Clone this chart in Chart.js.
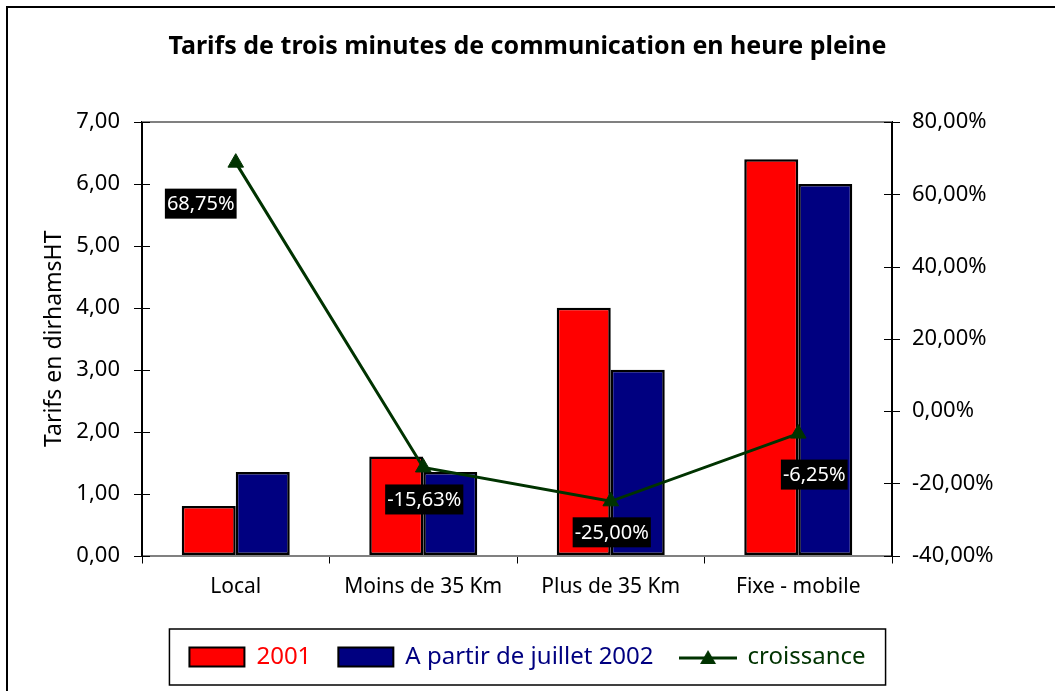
<!DOCTYPE html>
<html>
<head>
<meta charset="utf-8">
<script src="https://cdn.jsdelivr.net/npm/chart.js@4.4.0/dist/chart.umd.min.js"></script>
<style>
  html, body { margin: 0; padding: 0; background: #fff; }
  #wrap { width: 1055px; height: 691px; position: relative; }
</style>
</head>
<body>
<div id="wrap"><canvas id="tarifsChart"></canvas></div>
<script>
// Chart data
const categories = ['Local', 'Moins de 35 Km', 'Plus de 35 Km', 'Fixe - mobile'];
const tarifs2001 = [0.80, 1.60, 4.00, 6.40];
const tarifs2002 = [1.35, 1.35, 3.00, 6.00];
const croissance = [68.75, -15.63, -25.00, -6.25];
const leftTicks = [0, 1, 2, 3, 4, 5, 6, 7];
const rightTicks = [-40, -20, 0, 20, 40, 60, 80];

const FONT = '"Noto Sans", "DejaVu Sans", sans-serif';
const GREEN = '#003300';

function fr(v, d) {
  return v.toFixed(d).replace('.', ',');
}

// legend icon for the line series: a short line with a triangle
const lineIcon = document.createElement('canvas');
lineIcon.width = 58;
lineIcon.height = 20;
(function() {
  const c = lineIcon.getContext('2d');
  c.strokeStyle = GREEN;
  c.lineWidth = 3;
  c.beginPath();
  c.moveTo(0, 11);
  c.lineTo(58, 11);
  c.stroke();
  c.fillStyle = GREEN;
  c.beginPath();
  c.moveTo(29, 3);
  c.lineTo(37, 17);
  c.lineTo(21, 17);
  c.closePath();
  c.fill();
})();

// frame, top border, crossing ticks on the value axes, legend box
const decorPlugin = {
  id: 'decor',
  afterDraw(chart) {
    const ctx = chart.ctx;
    const area = chart.chartArea;
    ctx.save();
    // outer frame (only top and left are inside the picture)
    ctx.strokeStyle = '#000';
    ctx.lineWidth = 2;
    ctx.beginPath();
    ctx.moveTo(7, chart.height + 5);
    ctx.lineTo(7, 7);
    ctx.lineTo(chart.width + 5, 7);
    ctx.stroke();

    // top border of the plot area
    ctx.strokeStyle = '#808080';
    ctx.lineWidth = 2;
    ctx.beginPath();
    ctx.moveTo(area.left, area.top);
    ctx.lineTo(area.right, area.top);
    ctx.stroke();

    // ticks crossing the two value axes
    ctx.strokeStyle = '#000';
    ctx.lineWidth = 1;
    ['y', 'y1'].forEach(id => {
      const s = chart.scales[id];
      const x = id === 'y' ? area.left : area.right;
      s.ticks.forEach((t, i) => {
        const py = Math.round(s.getPixelForTick(i)) + 0.5;
        ctx.beginPath();
        ctx.moveTo(x - 8, py);
        ctx.lineTo(x + 8, py);
        ctx.stroke();
      });
    });

    // legend frame
    const boxes = chart.legend.legendHitBoxes;
    if (boxes && boxes.length) {
      const l = boxes[0].left - 20;
      const last = boxes[boxes.length - 1];
      const r = last.left + last.width + 20;
      const t = boxes[0].top - 16;
      const b = boxes[0].top + boxes[0].height + 16;
      ctx.strokeStyle = '#000';
      ctx.lineWidth = 1.5;
      ctx.strokeRect(l, t, r - l, b - t);
    }
    ctx.restore();
  }
};

// black boxes with the growth values
const labelOffsets = [[-35, 41], [1, 32], [1, 31], [16, 41]];
const growthLabels = {
  id: 'growthLabels',
  afterDatasetsDraw(chart) {
    const ctx = chart.ctx;
    const meta = chart.getDatasetMeta(2);
    ctx.save();
    ctx.font = '20px ' + FONT;
    ctx.textAlign = 'center';
    ctx.textBaseline = 'middle';
    meta.data.forEach((pt, i) => {
      const txt = fr(croissance[i], 2) + '%';
      const w = ctx.measureText(txt).width + 4;
      const h = 30;
      const cx = pt.x + labelOffsets[i][0];
      const cy = pt.y + labelOffsets[i][1];
      ctx.fillStyle = '#000';
      ctx.fillRect(cx - w / 2, cy - h / 2, w, h);
      ctx.fillStyle = '#fff';
      ctx.fillText(txt, cx, cy + 1);
    });
    ctx.restore();
  }
};

const ctx = document.getElementById('tarifsChart');
new Chart(ctx, {
  data: {
    labels: categories,
    datasets: [{
      type: 'bar',
      label: '2001',
      data: tarifs2001,
      backgroundColor: '#ff0000',
      borderColor: '#000',
      borderWidth: 2.5,
      borderSkipped: false,
      categoryPercentage: 0.576,
      barPercentage: 1.0,
      yAxisID: 'y',
      order: 2
    }, {
      type: 'bar',
      label: 'A partir de juillet 2002',
      data: tarifs2002,
      backgroundColor: '#000080',
      borderColor: '#000',
      borderWidth: 2.5,
      borderSkipped: false,
      categoryPercentage: 0.576,
      barPercentage: 1.0,
      yAxisID: 'y',
      order: 2
    }, {
      type: 'line',
      label: 'croissance',
      data: croissance,
      borderColor: GREEN,
      backgroundColor: GREEN,
      borderWidth: 3,
      pointStyle: 'triangle',
      pointRadius: 9,
      pointBorderWidth: 1,
      tension: 0,
      yAxisID: 'y1',
      order: 0
    }]
  },
  options: {
    responsive: true,
    maintainAspectRatio: false,
    animation: false,
    layout: {
      padding: { left: 0, right: 0, top: 0, bottom: 12 }
    },
    scales: {
      x: {
        offset: true,
        grid: {
          offset: true,
          drawOnChartArea: false,
          tickLength: 8,
          color: '#000'
        },
        border: { color: '#808080', width: 2 },
        ticks: {
          color: '#000',
          font: { family: FONT, size: 21 },
          padding: 11
        },
        afterFit: function(scale) { scale.height = 62.5; }
      },
      y: {
        position: 'left',
        min: 0,
        max: 7,
        afterBuildTicks: function(scale) {
          scale.ticks = leftTicks.map(v => ({ value: v }));
        },
        grid: { drawOnChartArea: false, drawTicks: false },
        border: { color: '#000', width: 2 },
        ticks: {
          color: '#000',
          font: { family: FONT, size: 22 },
          padding: 22,
          callback: function(v) { return fr(v, 2); }
        },
        title: {
          display: true,
          text: 'Tarifs en dirhamsHT',
          color: '#000',
          font: { family: FONT, size: 23 },
          padding: { top: 41, bottom: 0 }
        },
        afterFit: function(scale) { scale.width = 142; }
      },
      y1: {
        position: 'right',
        min: -40,
        max: 80,
        afterBuildTicks: function(scale) {
          scale.ticks = rightTicks.map(v => ({ value: v }));
        },
        grid: { drawOnChartArea: false, drawTicks: false },
        border: { color: '#000', width: 2 },
        ticks: {
          color: '#000',
          font: { family: FONT, size: 22 },
          padding: 20,
          callback: function(v) { return fr(v, 2) + '%'; }
        },
        afterFit: function(scale) { scale.width = 163; }
      }
    },
    plugins: {
      title: {
        display: true,
        text: 'Tarifs de trois minutes de communication en heure pleine',
        color: '#000',
        font: { family: FONT, size: 25, weight: 'bold' },
        padding: { top: 32, bottom: 60 }
      },
      legend: {
        position: 'bottom',
        labels: {
          usePointStyle: true,
          pointStyleWidth: 55,
          boxHeight: 19,
          padding: 27,
          font: { family: FONT, size: 24 },
          generateLabels: function(chart) {
            const items = Chart.defaults.plugins.legend.labels.generateLabels(chart);
            items.sort((a, b) => a.datasetIndex - b.datasetIndex);
            const colors = ['#ff0000', '#000080', GREEN];
            items.forEach(it => {
              it.fontColor = colors[it.datasetIndex];
              it.lineWidth = 2;
              it.strokeStyle = '#000';
              it.pointStyle = it.datasetIndex === 2 ? lineIcon : 'rect';
            });
            return items;
          }
        }
      },
      tooltip: { enabled: false }
    }
  },
  plugins: [decorPlugin, growthLabels]
});
</script>
</body>
</html>
